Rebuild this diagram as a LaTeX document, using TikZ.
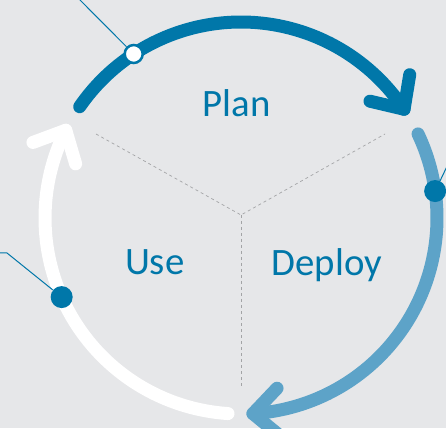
\documentclass[tikz,border=0pt]{standalone}
\usepackage{fontspec}
\setmainfont{Carlito}
\usetikzlibrary{calc}
\definecolor{planc}{HTML}{0077A9}
\definecolor{deployc}{HTML}{5DA3C8}
\definecolor{bgc}{HTML}{E6E7E9}
\definecolor{divc}{HTML}{A3A4A6}
\begin{document}
\begin{tikzpicture}[x=1pt,y=1pt,
  arcline/.style={line width=13pt, line cap=round, line join=round},
  leader/.style={line width=1pt, draw=planc},
  fulldot/.style={circle, fill=planc, minimum size=22pt, inner sep=0pt},
  opendot/.style={circle, fill=white, draw=planc, line width=2.5pt, minimum size=18pt, inner sep=0pt},
  divider/.style={draw=divc, line width=0.7pt, dash pattern=on 3pt off 3pt},
  lbl/.style={text=planc, font=\fontsize{38.8}{40}\selectfont, inner sep=0pt, anchor=base}]
\fill[bgc] (0,0) rectangle (446,428);
\useasboundingbox (0,0) rectangle (446,428);
\clip (0,0) rectangle (446,428);
\coordinate (C) at (241,210);
% dashed dividers
\coordinate (M) at (241,213);
\coordinate (dl) at (96,294);
\coordinate (dr) at (385,294);
\coordinate (db) at (241,42);
\draw[divider] (dl) -- (M) -- (dr);
\draw[divider] (M) -- (db);
% Use arc (white)
\draw[arcline, white] (C) ++(266.2:196) arc[start angle=266.2, end angle=153.4, radius=196];
\coordinate (T3) at ($(C)+(153.4:196)$);
\draw[arcline, white] ($(T3)+(286.4:35)$) -- (T3) -- ($(T3)+(200.4:35)$);
% Deploy arc
\draw[arcline, deployc] (C) ++(25.4:196) arc[start angle=25.4, end angle=-86.5, radius=196];
\coordinate (T2) at ($(C)+(-86.5:196)$);
\draw[arcline, deployc] ($(T2)+(46.5:35)$) -- (T2) -- ($(T2)+(-39.5:35)$);
% Plan arc
\draw[arcline, planc] (C) ++(145.4:196) arc[start angle=145.4, end angle=33.7, radius=196];
\coordinate (T1) at ($(C)+(33.7:196)$);
\draw[arcline, planc] ($(T1)+(80.7:35)$) -- (T1) -- ($(T1)+(166.7:35)$);
% dots and leaders
\coordinate (pend) at (78,430);
\node[opendot] (pdot) at ($(C)+(123.2:196)$) {};
\draw[leader] (pdot) -- (pend);
\coordinate (dend) at (452,272);
\node[fulldot] (ddot) at ($(C)+(7.9:196)$) {};
\draw[leader] (ddot) -- (dend);
\coordinate (ubend) at (7,175);
\coordinate (uend) at (-5,175);
\node[fulldot] (udot) at ($(C)+(203.8:196)$) {};
\draw[leader] (udot) -- (ubend) -- (uend);
% labels
\node[lbl] (plan) at (236.5,311) {Plan};
\node[lbl] (use) at (154.7,153.3) {Use};
\node[lbl] (deploy) at (326.7,152.3) {Deploy};
\end{tikzpicture}
\end{document}
